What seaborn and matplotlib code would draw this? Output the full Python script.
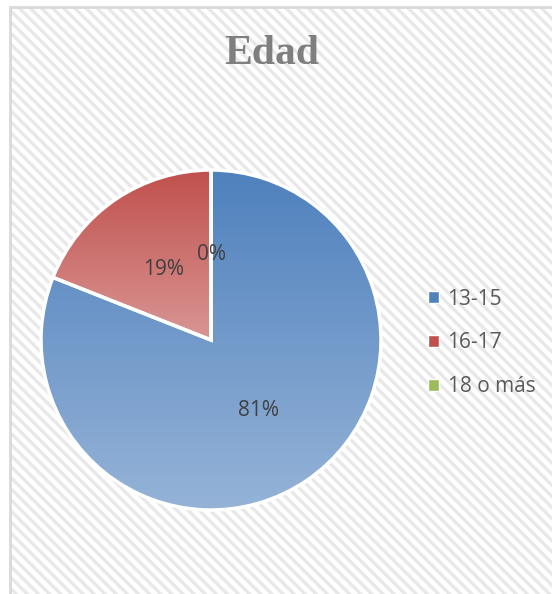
import numpy as np
import matplotlib
matplotlib.use("Agg")
import matplotlib.pyplot as plt
import seaborn as sns
from matplotlib.patches import Rectangle

# data
categories = ["13-15", "16-17", "18 o más"]
percentages = [81, 19, 0]
top_colors = ["#4f81bd", "#c0504d", "#9bbb59"]
bottom_colors = ["#95b3d7", "#d99694", "#c3d69b"]
title = "Edad"

sns.set_theme(style="white")
plt.rcParams["font.family"] = ["Open Sans", "DejaVu Sans"]
plt.rcParams["hatch.linewidth"] = 2.4

fig = plt.figure(figsize=(5.52, 5.94), dpi=100)
fig.patch.set_facecolor("white")

# striped chart area + light border
W, H = 552, 594
fig.patches.append(Rectangle((10 / W, -0.05), 1.1, 1 - 7 / H + 0.05, transform=fig.transFigure,
                             facecolor="white", edgecolor="#e8e8e8", hatch="\\\\\\", lw=0, zorder=-2))
fig.patches.append(Rectangle((10 / W, -0.05), 1.1, 1 - 7 / H + 0.05, transform=fig.transFigure,
                             facecolor="none", edgecolor="#d9d9d9", lw=2, zorder=-1))

ax = fig.add_axes([41 / W, 84 / H, 340 / W, 340 / H])
wedges, texts, autotexts = ax.pie(
    percentages, colors=top_colors, startangle=90, counterclock=False,
    autopct="%.0f%%", pctdistance=0.5,
    wedgeprops=dict(edgecolor="white", linewidth=2.5),
    textprops=dict(color="#404040", fontsize=15))

# vertical gradient fill, one per wedge
grad = np.linspace(0, 1, 256).reshape(-1, 1)
for w, p, c0, c1 in zip(wedges, percentages, top_colors, bottom_colors):
    if p == 0:
        continue
    ext = w.get_path().get_extents()
    cmap = sns.blend_palette([c1, c0], as_cmap=True)
    im = ax.imshow(grad, cmap=cmap, origin="lower", aspect="auto",
                   extent=(ext.x0, ext.x1, ext.y0, ext.y1), zorder=0.5)
    im.set_clip_path(w)
    w.set_facecolor("none")

ax.set_xlim(-1.0, 1.0)
ax.set_ylim(-1.0, 1.0)
ax.set_aspect("equal")
ax.axis("off")

handles = [Rectangle((0, 0), 1, 1, facecolor=c) for c in top_colors]
fig.legend(handles, categories, loc="center left", bbox_to_anchor=(409 / W, 1 - 343 / H),
           frameon=False, fontsize=15, labelcolor="#595959",
           handlelength=0.55, handleheight=0.55, handletextpad=0.4, labelspacing=1.1)

fig.text(0.493, 1 - 54 / H, title, family="Liberation Serif", weight="bold",
         size=30, color="#7f7f7f", ha="center", va="center")

fig.savefig("out.png", dpi=100)
